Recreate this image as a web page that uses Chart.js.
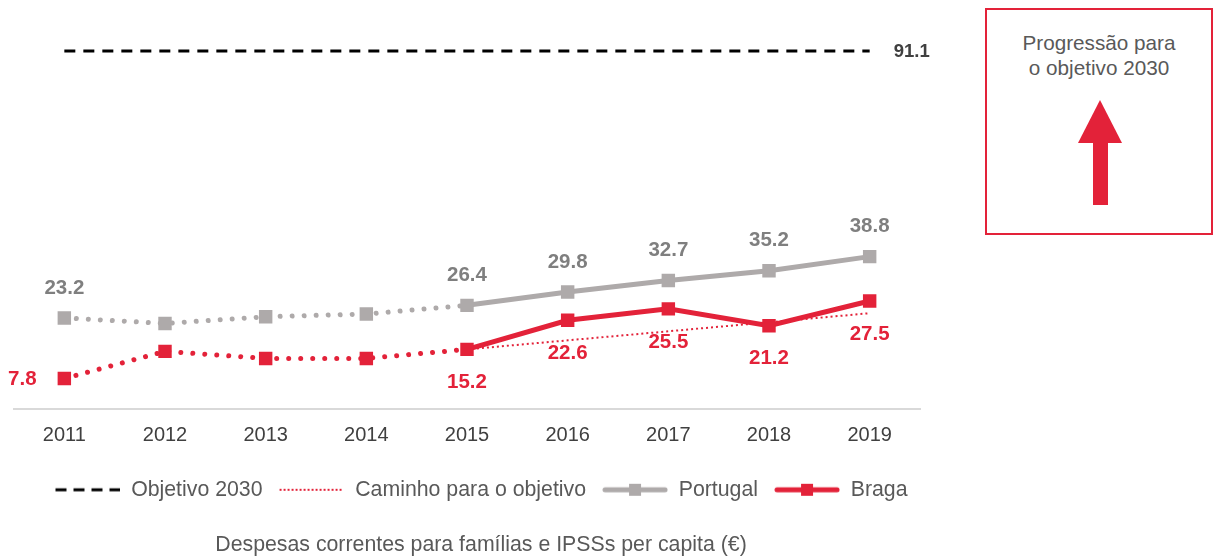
<!DOCTYPE html>
<html>
<head>
<meta charset="utf-8">
<script src="https://cdn.jsdelivr.net/npm/chart.js@4/dist/chart.umd.min.js"></script>
<style>
  html, body { margin:0; padding:0; background:#fff; }
  body { width:1216px; height:560px; position:relative; overflow:hidden; font-family:"Liberation Sans", Arial, sans-serif; }
  #wrap { position:absolute; left:0; top:0; width:962px; height:560px; }
  #box { position:absolute; left:985px; top:8px; width:224px; height:223px; border:2px solid #E32239; box-sizing:content-box; }
  #box .t { position:absolute; left:0; right:0; top:20px; text-align:center; color:#595959; font-size:20.7px; line-height:25px; }
  #box svg { position:absolute; left:0; top:0; }
</style>
</head>
<body>
<div id="wrap"><canvas id="c"></canvas></div>
<div id="box">
  <div class="t">Progressão para<br>o objetivo 2030</div>
  <svg width="224" height="223" viewBox="0 0 224 223">
    <polygon points="113,90 91,133 135,133" fill="#E32239"/>
    <rect x="106" y="132" width="15" height="63" fill="#E32239"/>
  </svg>
</div>
<script>
const years = ['2011','2012','2013','2014','2015','2016','2017','2018','2019'];
const objetivo = [91.1, 91.1, 91.1, 91.1, 91.1, 91.1, 91.1, 91.1, 91.1];
const caminho = [null, null, null, null, 15.2, 17.5, 19.8, 22.1, 24.4];
const portugal = [23.2, 21.8, 23.5, 24.2, 26.4, 29.8, 32.7, 35.2, 38.8];
const braga = [7.8, 14.7, 12.9, 12.9, 15.2, 22.6, 25.5, 21.2, 27.5];
const portugalLabels = ['23.2', '', '', '', '26.4', '29.8', '32.7', '35.2', '38.8'];
const bragaLabels = ['7.8', '', '', '', '15.2', '22.6', '25.5', '21.2', '27.5'];
const objetivoLabel = '91.1';
const legendNames = ['Objetivo 2030', 'Caminho para o objetivo', 'Portugal', 'Braga'];
const xTitle = 'Despesas correntes para famílias e IPSSs per capita (€)';

const RED = '#E32239', GRAY = '#AEAAAA', GRAYTXT = '#7F7F7F', TXT = '#595959';
const FONT = '"Liberation Sans", Arial, sans-serif';
const DOTTED_UNTIL = 4;

function legendIcon(kind) {
  const c = document.createElement('canvas');
  c.width = 66; c.height = 16;
  const g = c.getContext('2d');
  const y = 8;
  g.beginPath();
  if (kind === 0) { g.strokeStyle = '#000'; g.lineWidth = 3; g.setLineDash([11, 7]); g.moveTo(1, y); g.lineTo(66, y); }
  else if (kind === 1) { g.strokeStyle = RED; g.lineWidth = 2; g.setLineDash([2, 2]); g.moveTo(1, y); g.lineTo(65, y); }
  else { g.strokeStyle = kind === 2 ? GRAY : RED; g.lineWidth = 5; g.lineCap = 'round'; g.moveTo(3, y); g.lineTo(63, y); }
  g.stroke();
  if (kind >= 2) { g.fillStyle = kind === 2 ? GRAY : RED; g.fillRect(27, 2, 12, 12); }
  return c;
}

const dotted = ctx => ctx.p1DataIndex <= DOTTED_UNTIL;

const labelPlugin = {
  id: 'valueLabels',
  afterDatasetsDraw(chart) {
    const ctx = chart.ctx;
    ctx.save();
    ctx.textBaseline = 'middle';
    chart.data.datasets.forEach((ds, di) => {
      const meta = chart.getDatasetMeta(di);
      meta.data.forEach((el, i) => {
        ctx.font = 'bold 20.5px ' + FONT;
        if (ds.key === 'portugal' && portugalLabels[i]) {
          ctx.fillStyle = GRAYTXT; ctx.textAlign = 'center';
          ctx.fillText(portugalLabels[i], el.x, el.y - 30);
        } else if (ds.key === 'braga' && bragaLabels[i]) {
          ctx.fillStyle = RED; ctx.textAlign = 'center';
          if (i === 0) ctx.fillText(bragaLabels[i], el.x - 42, el.y + 1);
          else ctx.fillText(bragaLabels[i], el.x, el.y + 33);
        } else if (ds.key === 'objetivo' && i === meta.data.length - 1) {
          ctx.fillStyle = '#404040'; ctx.textAlign = 'left';
          ctx.font = 'bold 18.5px ' + FONT;
          ctx.fillText(objetivoLabel, el.x + 24, el.y + 1);
        }
      });
    });
    ctx.restore();
  }
};

const spacer = (pos, w) => ({
  type: 'linear', position: pos, display: true, min: 0, max: 1,
  grid: { display: false, drawTicks: false }, border: { display: false },
  ticks: { display: false },
  afterFit: s => { s.width = w; }
});

new Chart(document.getElementById('c'), {
  type: 'line',
  data: {
    labels: years,
    datasets: [
      { key: 'braga', label: legendNames[3], data: braga, borderColor: RED, backgroundColor: RED,
        borderWidth: 5, pointStyle: 'rect', pointRadius: 9.5, pointHoverRadius: 9.5, pointBorderWidth: 0,
        segment: {
          borderDash: ctx => dotted(ctx) ? [0.01, 12] : [],
          borderCapStyle: ctx => dotted(ctx) ? 'round' : 'butt'
        } },
      { key: 'portugal', label: legendNames[2], data: portugal, borderColor: GRAY, backgroundColor: GRAY,
        borderWidth: 5, pointStyle: 'rect', pointRadius: 9.5, pointHoverRadius: 9.5, pointBorderWidth: 0,
        segment: {
          borderDash: ctx => dotted(ctx) ? [0.01, 12] : [],
          borderCapStyle: ctx => dotted(ctx) ? 'round' : 'butt'
        } },
      { key: 'caminho', label: legendNames[1], data: caminho, borderColor: RED, borderWidth: 2,
        borderDash: [2, 3], pointRadius: 0, spanGaps: false },
      { key: 'objetivo', label: legendNames[0], data: objetivo, borderColor: '#000', borderWidth: 3,
        borderDash: [11, 8], pointRadius: 0 }
    ]
  },
  options: {
    responsive: true,
    maintainAspectRatio: false,
    animation: false,
    layout: { padding: { top: 16, left: 0, right: 0, bottom: 2 } },
    scales: {
      y: { display: false, min: 0, max: 100 },
      padL: spacer('left', 14),
      padR: spacer('right', 42),
      x: {
        offset: true,
        grid: { display: false, drawTicks: false, offset: true },
        border: { display: true, color: '#D9D9D9', width: 2 },
        ticks: { color: '#404040', font: { family: FONT, size: 20 }, padding: 14 },
        afterFit: s => { s.height += 2; }
      }
    },
    plugins: {
      tooltip: { enabled: false },
      legend: {
        position: 'bottom',
        labels: {
          usePointStyle: true,
          pointStyleWidth: 66,
          padding: 16,
          color: TXT,
          font: { family: FONT, size: 21.3 },
          generateLabels: () => [0, 1, 2, 3].map(k => ({
            text: legendNames[k], pointStyle: legendIcon(k), fontColor: TXT,
            hidden: false, datasetIndex: 3 - k, lineWidth: 0, strokeStyle: 'transparent', fillStyle: 'transparent'
          }))
        }
      },
      title: {
        display: true, position: 'bottom', text: xTitle, color: TXT,
        font: { family: FONT, size: 21.3, weight: 'normal' }, padding: { top: 22, bottom: 0 }
      }
    }
  },
  plugins: [labelPlugin]
});
</script>
</body>
</html>
